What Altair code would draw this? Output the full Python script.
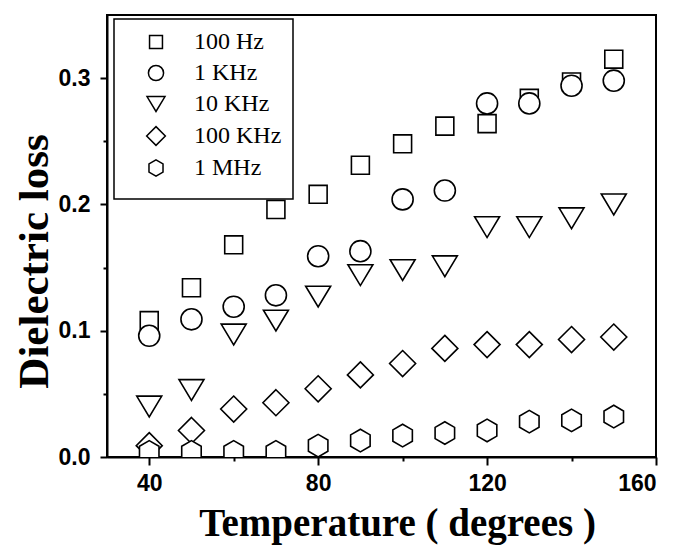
import altair as alt
import pandas as pd

temps = [40, 50, 60, 70, 80, 90, 100, 110, 120, 130, 140, 150]
series_names = ["100 Hz", "1 KHz", "10 KHz", "100 KHz", "1 MHz"]
loss_100hz = [0.108, 0.134, 0.168, 0.196, 0.208, 0.231, 0.248, 0.262, 0.264, 0.284, 0.297, 0.315]
loss_1khz = [0.096, 0.109, 0.119, 0.128, 0.159, 0.163, 0.204, 0.211, 0.280, 0.280, 0.294, 0.298]
loss_10khz = [0.040, 0.053, 0.097, 0.108, 0.127, 0.144, 0.148, 0.151, 0.182, 0.182, 0.189, 0.200]
loss_100khz = [0.009, 0.021, 0.038, 0.043, 0.054, 0.065, 0.074, 0.086, 0.089, 0.089, 0.093, 0.095]
loss_1mhz = [0.004, 0.004, 0.004, 0.004, 0.009, 0.013, 0.017, 0.019, 0.021, 0.028, 0.029, 0.032]

x_ticks = [40, 60, 80, 100, 120, 140, 160]
y_ticks = [0, 0.05, 0.1, 0.15, 0.2, 0.25, 0.3]

# marker outlines (unit box -1..1)
shape_paths = [
    "M-0.69,-0.69L0.69,-0.69L0.69,0.69L-0.69,0.69Z",
    "M0.81,0A0.81,0.81 0 1,1 -0.81,0A0.81,0.81 0 1,1 0.81,0Z",
    "M-0.96,-0.8L0.96,-0.8L0,0.8Z",
    "M0,-1L1,0L0,1L-1,0Z",
    "M0,-0.87L0.75,-0.435L0.75,0.435L0,0.87L-0.75,0.435L-0.75,-0.435Z",
]

rows = []
for name, vals in zip(series_names, [loss_100hz, loss_1khz, loss_10khz, loss_100khz, loss_1mhz]):
    for t, v in zip(temps, vals):
        rows.append({"T": t, "loss": v, "freq": name})
df = pd.DataFrame(rows)

major_x = "datum.value % 40 === 0"
major_y = "abs(datum.value * 10 - round(datum.value * 10)) < 0.001"

chart = alt.Chart(df).mark_point(
    filled=False, fill="white", stroke="black", strokeWidth=1.6, opacity=1, size=676, clip=True
).encode(
    x=alt.X(
        "T:Q",
        scale=alt.Scale(domain=[30, 160], nice=False, zero=False),
        axis=alt.Axis(
            values=x_ticks,
            title="Temperature ( degrees )",
            labelExpr=f"{major_x} ? datum.label : ''",
            tickSize={"condition": {"test": major_x, "value": 8}, "value": 4},
            labelPadding=7,
            titleX=290,
            titleY=78,
            titleBaseline="alphabetic",
            titleFontSize=39,
        ),
    ),
    y=alt.Y(
        "loss:Q",
        scale=alt.Scale(domain=[0, 0.35], nice=False),
        axis=alt.Axis(
            values=y_ticks,
            title="Dielectric loss",
            labelExpr=f"{major_y} ? format(datum.value, '.1f') : ''",
            tickSize={"condition": {"test": major_y, "value": 7}, "value": 4},
            labelPadding=10,
            titleX=-60,
            titleY=246,
            titleBaseline="alphabetic",
            titleFontSize=43,
        ),
    ),
    shape=alt.Shape(
        "freq:N",
        scale=alt.Scale(domain=series_names, range=shape_paths),
        legend=alt.Legend(
            title=" ",
            titleOrient="bottom",
            titleFontSize=4,
            titlePadding=4,
            orient="none",
            legendX=7,
            legendY=4,
            strokeColor="black",
            fillColor="white",
            padding=11,
            symbolSize=350,
            symbolStrokeWidth=1.5,
            symbolOffset=19,
            labelOffset=26,
            labelFont="Liberation Serif",
            labelFontSize=24,
            labelColor="black",
            rowPadding=7,
            cornerRadius=0,
        ),
    ),
).properties(
    width=549,
    height=442,
    autosize=alt.AutoSizeParams(type="none"),
    padding={"left": 99, "top": 7, "right": 15, "bottom": 89},
).configure_axis(
    grid=False,
    domainColor="black",
    domainWidth=2,
    tickColor="black",
    tickWidth=2,
    labelFont="Liberation Sans",
    labelFontWeight="bold",
    labelFontSize=23,
    labelColor="black",
    titleFont="Liberation Serif",
    titleFontWeight="bold",
    titleColor="black",
).configure_legend(
    strokeWidth=1.5,
).configure_view(
    stroke="black",
    strokeWidth=2,
)

chart.save("out.html", embed_options={"renderer": "svg", "actions": False})
